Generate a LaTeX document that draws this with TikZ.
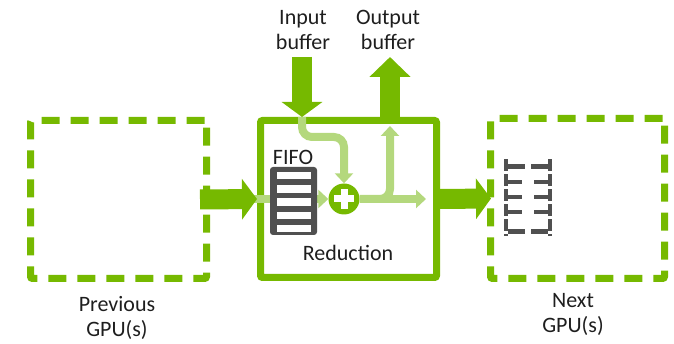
\documentclass[tikz,border=0pt]{standalone}
\usepackage{fontspec}
\setmainfont{Carlito}
\usetikzlibrary{arrows.meta}
\definecolor{ngreen}{RGB}{118,185,0}
\definecolor{lgreen}{RGB}{180,216,125}
\definecolor{fgray}{RGB}{80,80,80}
\definecolor{txt}{RGB}{30,30,30}
\begin{document}
\begin{tikzpicture}[x=1pt,y=-1pt,
  dashbox/.style={draw=ngreen, line width=7pt, dash pattern=on 18pt off 11pt, rounded corners=2pt},
  solidbox/.style={draw=ngreen, line width=7pt, rounded corners=2pt},
  lab/.style={text=txt, align=center, inner sep=0pt, font=\fontsize{22}{25}\selectfont},
  bigarrow/.style={draw=ngreen, line width=20pt, -{Triangle[length=15pt,width=40pt]}},
  lline/.style={draw=lgreen, line width=8pt, -{Triangle[length=10pt,width=18pt]}},
  fifobox/.style={fill=fgray, rounded corners=3pt, minimum width=47pt, minimum height=68pt, inner sep=0pt},
  dfifo/.style={minimum width=44pt, minimum height=65pt, inner sep=0pt},
  slot/.style={fill=white},
  stub/.style={draw=fgray, line width=4.5pt}
]
\useasboundingbox (0,0) rectangle (674,344);

% boxes
\node[dashbox, minimum width=176pt, minimum height=158pt] (prev) at (118.5,199.5) {};
\node[solidbox, minimum width=176pt, minimum height=157pt] (mid) at (348.5,199) {};
\node[dashbox, minimum width=174pt, minimum height=160pt] (next) at (577.5,198.5) {};

% labels
\node[lab] (prevlab) at (117,318) {Previous\\GPU(s)};
\node[lab] (nextlab) at (573,314) {Next\\GPU(s)};
\node[lab] (inlab) at (303,30) {Input\\buffer};
\node[lab] (outlab) at (388,30) {Output\\buffer};
\node[lab] (fifolab) at (293,157) {FIFO};
\node[lab] (redlab) at (348,253) {Reduction};

% coordinates
\coordinate (intop) at (302,57);
\coordinate (outtop) at (390,57);
\coordinate (rout) at (426,198);
\coordinate (uptip) at (390,126);

% plus node
\node[circle, fill=ngreen, minimum size=31pt, inner sep=0pt] (plus) at (344,199) {};

% light paths
\draw[lline, rounded corners=10pt] (intop |- mid.north) -- (302,137) -- (344,137) -- (plus.north);
\draw[lline] ([xshift=-3pt]mid.west |- plus.west) -- (plus.west);
\draw[lline] (plus.east) -- (rout |- plus.east);
\draw[lline, rounded corners=10pt] (plus.east) -- (390,199) -- (uptip);

% plus sign
\draw[white, line width=7pt] ([xshift=-10pt]plus.center) -- ([xshift=10pt]plus.center);
\draw[white, line width=7pt] ([yshift=-10pt]plus.center) -- ([yshift=10pt]plus.center);

% FIFO
\node[fifobox] (fifo) at (293.5,201) {};
\foreach \i in {0,...,4}{
  \fill[slot] (277,172+13.2*\i) rectangle (311,179.5+13.2*\i);
}

% next FIFO (dashed outline)
\node[dfifo] (nfifo) at (528,199) {};
\draw[stub, rounded corners=2pt] ([xshift=2pt]nfifo.north west) -- ([xshift=19pt]nfifo.north west);
\draw[stub, rounded corners=2pt] ([xshift=-2pt]nfifo.north east) -- ([xshift=-19pt]nfifo.north east);
\draw[stub] ([xshift=2pt]nfifo.south west) -- ([xshift=19pt]nfifo.south west);
\draw[stub] ([xshift=-2pt]nfifo.south east) -- ([xshift=-19pt]nfifo.south east);
\draw[stub, dash pattern=on 12pt off 3pt] ([yshift=7pt]nfifo.north west) -- ([yshift=-4pt]nfifo.south west);
\draw[stub, dash pattern=on 12pt off 3pt] ([yshift=7pt]nfifo.north east) -- ([yshift=-4pt]nfifo.south east);
\foreach \y in {182,197,212}{
  \draw[stub] (506,\y) -- (522,\y);
  \draw[stub] (534,\y) -- (550,\y);
}

% big arrows
\draw[bigarrow] ([xshift=-10pt]prev.east) -- (mid.west);
\draw[bigarrow] (mid.east) -- ([xshift=4pt]next.west);
\draw[bigarrow] (intop) -- (intop |- mid.north);
\draw[draw=ngreen, line width=20pt, -{Triangle[length=20pt,width=40pt]}] (outtop |- mid.north) -- (outtop);
\end{tikzpicture}
\end{document}
